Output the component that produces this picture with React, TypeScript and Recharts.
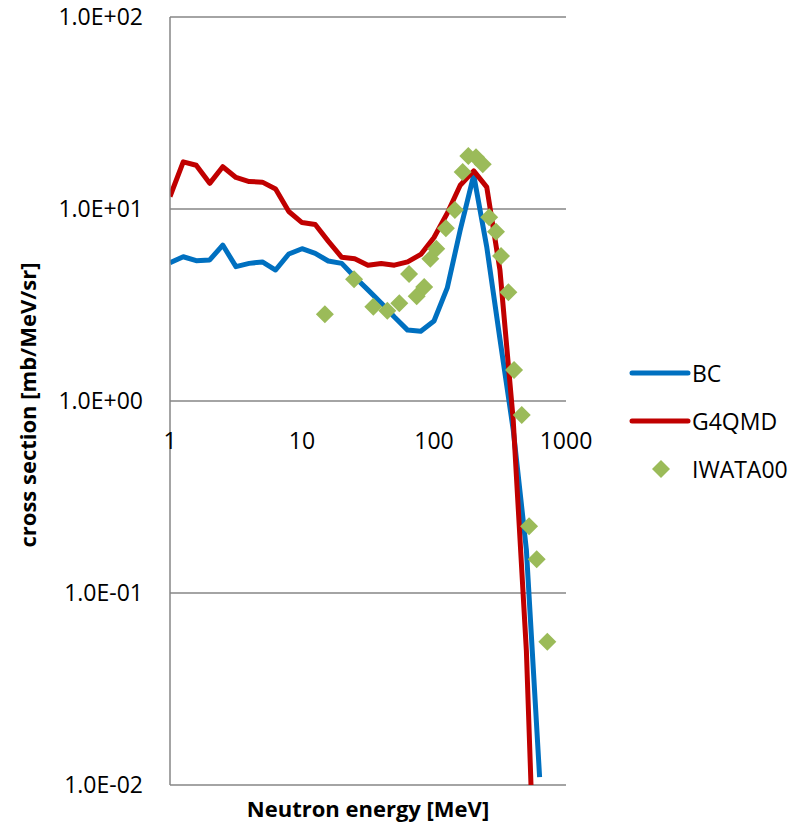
import {
  ComposedChart,
  Line,
  Scatter,
  XAxis,
  YAxis,
  CartesianGrid,
  ReferenceDot,
  Legend,
} from "recharts";

const FONT = '"Open Sans", "Noto Sans", sans-serif';
const GRID = "#868686";

// calculation grid, neutron energy in MeV (0.1 decade steps)
const energies = [
  1, 1.26, 1.58, 2.0, 2.51, 3.16, 3.98, 5.01, 6.31, 7.94, 10, 12.6, 15.8, 20,
  25.1, 31.6, 39.8, 50.1, 63.1, 79.4, 100, 126, 158, 200, 251, 316, 398, 501,
  631,
];

const bcValues = [
  5.25, 5.64, 5.38, 5.43, 6.49, 5.01, 5.21, 5.3, 4.81, 5.83, 6.21, 5.88, 5.36,
  5.21, 4.42, 3.79, 3.24, 2.74, 2.34, 2.31, 2.61, 3.88, 7.77, 15.0, 6.34, 2.1,
  0.71, 0.168, 0.011,
];

const g4qmdValues = [
  11.6, 17.6, 16.9, 13.6, 16.6, 14.6, 13.9, 13.8, 12.7, 9.7, 8.5, 8.3, 6.8,
  5.6, 5.5, 5.1, 5.2, 5.1, 5.3, 5.8, 7.1, 9.5, 13.3, 15.8, 13.0, 4.8, 0.8,
  0.05, 0.0005,
];

// IWATA00 measurement
const iwataEnergies = [
  14.9, 24.8, 34.7, 44.3, 54.6, 64.7, 73.9, 84.3, 93.8, 104, 123, 144, 165,
  182, 208, 234, 262, 295, 322, 366, 404, 462, 525, 600, 722,
];
const iwataValues = [
  2.83, 4.3, 3.1, 2.95, 3.23, 4.58, 3.51, 3.93, 5.5, 6.21, 7.93, 9.88, 15.6,
  18.9, 18.6, 17.1, 9.05, 7.62, 5.69, 3.68, 1.45, 0.846, 0.223, 0.15, 0.0558,
];

const xTicks = [1, 10, 100, 1000];
const yTicks = [0.01, 0.1, 1, 10, 100];

const series = [
  { name: "BC", color: "#0070C0", kind: "line" },
  { name: "G4QMD", color: "#C00000", kind: "line" },
  { name: "IWATA00", color: "#9BBB59", kind: "diamond" },
];

const bcData = energies.map((e, i) => ({ e, v: bcValues[i] }));
const g4qmdData = energies.map((e, i) => ({ e, v: g4qmdValues[i] }));
const iwataData = iwataEnergies.map((e, i) => ({ e, v: iwataValues[i] }));

// 1.0E+02 style labels
function sci(v: number) {
  const exp = Math.round(Math.log10(v));
  const m = v / Math.pow(10, exp);
  const sign = exp < 0 ? "-" : "+";
  return `${m.toFixed(1)}E${sign}${String(Math.abs(exp)).padStart(2, "0")}`;
}

function Diamond(props: any) {
  const { cx, cy, fill } = props;
  const r = 9;
  return (
    <polygon
      points={`${cx},${cy - r} ${cx + r},${cy} ${cx},${cy + r} ${cx - r},${cy}`}
      fill={fill}
    />
  );
}

function YTitle(props: any) {
  const { viewBox } = props;
  const cx = 27;
  const cy = viewBox.y + viewBox.height / 2 + 4;
  return (
    <text
      x={cx}
      y={cy}
      transform={`rotate(-90 ${cx} ${cy})`}
      textAnchor="middle"
      dominantBaseline="central"
      fontFamily={FONT}
      fontSize={22}
      fontWeight={700}
      fill="#000"
    >
      cross section [mb/MeV/sr]
    </text>
  );
}

function LegendBox() {
  return (
    <svg width={174} height={150} style={{ display: "block" }}>
      {series.map((s, i) => {
        const y = 28 + i * 48;
        return (
          <g key={s.name}>
            {s.kind === "line" ? (
              <line
                x1={12}
                x2={68}
                y1={y}
                y2={y}
                stroke={s.color}
                strokeWidth={5}
                strokeLinecap="round"
              />
            ) : (
              <Diamond cx={41} cy={y} fill={s.color} />
            )}
            <text
              x={72}
              y={y}
              dominantBaseline="central"
              fontFamily={FONT}
              fontSize={23}
              fill="#000"
            >
              {s.name}
            </text>
          </g>
        );
      })}
    </svg>
  );
}

export default function App() {
  return (
    <div style={{ position: "absolute", left: 0, top: 0, background: "#fff" }}>
      <ComposedChart
        width={794}
        height={822}
        margin={{ top: 17, right: 228, bottom: 0, left: 0 }}
      >
        <CartesianGrid
          horizontal
          vertical={false}
          stroke={GRID}
          strokeWidth={1.5}
        />
        <XAxis
          dataKey="e"
          type="number"
          scale="log"
          domain={[1, 1000]}
          ticks={xTicks}
          allowDataOverflow
          tick={false}
          axisLine={false}
          tickLine={false}
          height={37}
          label={{
            value: "Neutron energy [MeV]",
            position: "insideBottom",
            offset: 5,
            fontFamily: FONT,
            fontSize: 22,
            fontWeight: 700,
            fill: "#000",
          }}
        />
        <YAxis
          dataKey="v"
          type="number"
          scale="log"
          domain={[0.01, 100]}
          ticks={yTicks}
          interval={0}
          allowDataOverflow
          width={170}
          axisLine={{ stroke: GRID, strokeWidth: 1.5 }}
          tickLine={false}
          tickSize={0}
          tickMargin={27}
          tick={{ fontFamily: FONT, fontSize: 23, fill: "#000" }}
          tickFormatter={sci}
          label={<YTitle />}
        />
        {/* energy labels sit on the 1.0E+00 line, where the x axis crosses */}
        {xTicks.map((t) => (
          <ReferenceDot
            key={t}
            x={t}
            y={1}
            r={0}
            fill="none"
            stroke="none"
            label={{
              value: String(t),
              position: "bottom",
              offset: 32,
              fontFamily: FONT,
              fontSize: 23,
              fill: "#000",
            }}
          />
        ))}
        <Line
          data={bcData}
          dataKey="v"
          name="BC"
          type="linear"
          stroke="#0070C0"
          strokeWidth={5}
          strokeLinejoin="round"
          dot={false}
          isAnimationActive={false}
        />
        <Line
          data={g4qmdData}
          dataKey="v"
          name="G4QMD"
          type="linear"
          stroke="#C00000"
          strokeWidth={5}
          strokeLinejoin="round"
          dot={false}
          isAnimationActive={false}
        />
        <Scatter
          data={iwataData}
          dataKey="v"
          name="IWATA00"
          fill="#9BBB59"
          shape={<Diamond />}
          isAnimationActive={false}
        />
        <Legend
          layout="horizontal"
          verticalAlign="middle"
          align="center"
          wrapperStyle={{ left: 620, top: 345, width: 174 }}
          content={<LegendBox />}
        />
      </ComposedChart>
    </div>
  );
}
